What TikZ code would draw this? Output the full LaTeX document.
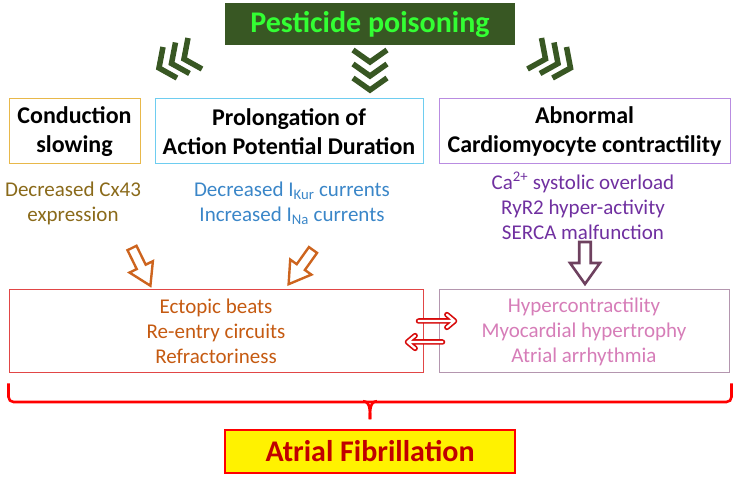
\documentclass[tikz,border=0pt]{standalone}
\usepackage{fontspec}
\setmainfont{Carlito}
\usetikzlibrary{arrows.meta, calc}

\definecolor{titlegreen}{RGB}{56,87,35}
\definecolor{limegreen}{RGB}{51,255,51}
\definecolor{goldline}{RGB}{232,184,74}
\definecolor{skyline}{RGB}{110,205,240}
\definecolor{lilacline}{RGB}{185,140,225}
\definecolor{olivetext}{RGB}{138,106,26}
\definecolor{bluetext}{RGB}{58,134,200}
\definecolor{purpletext}{RGB}{112,48,160}
\definecolor{orangetext}{RGB}{197,90,17}
\definecolor{orangearrow}{RGB}{205,100,30}
\definecolor{plumarrow}{RGB}{110,65,95}
\definecolor{redline}{RGB}{225,70,70}
\definecolor{mauveline}{RGB}{180,150,175}
\definecolor{pinktext}{RGB}{214,125,184}
\definecolor{darkred}{RGB}{192,0,0}
\definecolor{swapred}{RGB}{215,10,10}

\tikzset{
    headbox/.style={draw, line width=1pt, align=center, inner sep=0pt, minimum height=65pt, font=\fontsize{24}{29}\selectfont\bfseries},
    subtext/.style={align=center, font=\fontsize{21}{25}\selectfont},
    effectbox/.style={draw, line width=1pt, align=center, inner sep=0pt, minimum height=83pt, font=\fontsize{21}{25}\selectfont},
    swapline/.style={line cap=round, line join=round},
    bracket/.style={draw=red, line width=2.6pt},
    chevron/.pic={\draw[pic actions, line join=miter] (-17,-6) -- (0,6) -- (17,-6);},
    sidechevron/.pic={\draw[pic actions, line join=miter] (4,-21) -- (0,0) -- (18,10);},
    hollowarrow/.pic={\draw[pic actions, line join=miter] (0,-5) -- (21,-5) -- (21,-13) -- (42,0) -- (21,13) -- (21,5) -- (0,5) -- cycle;}
}

\begin{document}
\begin{tikzpicture}[x=1pt, y=-1pt]

        \useasboundingbox (0,0) rectangle (737,478);

        % ================= TOP: cause =================
        \node[fill=titlegreen, minimum width=290pt, minimum height=42pt, inner sep=0pt,
              text=limegreen, font=\fontsize{30}{36}\selectfont\bfseries] (pest) at (370,24) {Pesticide poisoning};

        % chevrons
        \foreach \k in {0,1,2}
            \pic[draw=titlegreen, line width=5.5pt] at (370,56+14*\k) {chevron};
        \foreach \k in {0,1,2} {
            \pic[draw=titlegreen, line width=5.5pt] at (159+12.5*\k,68-4.5*\k) {sidechevron};
            \pic[draw=titlegreen, line width=5.5pt, xscale=-1] at (570.5-12.5*\k,68-4.5*\k) {sidechevron};
        }

        % ================= MIDDLE: mechanisms =================
        \node[headbox, draw=goldline, minimum width=131pt] (slow) at (74.5,131.5) {Conduction\\slowing};
        \node[headbox, draw=skyline, minimum width=268pt] (apd) at (289,131.5) {Prolongation of\\Action Potential Duration};
        \node[headbox, draw=lilacline, minimum width=291pt] (contr) at (584.5,131.5) {Abnormal\\Cardiomyocyte contractility};

        \node[subtext, text=olivetext] (cx) at (73,203) {Decreased Cx43\\expression};
        \node[subtext, text=bluetext] (ion) at (292,203) {Decreased I\textsubscript{Kur} currents\\Increased I\textsubscript{Na} currents};
        \node[subtext, text=purpletext] (ca) at (583,206) {Ca\textsuperscript{2+} systolic overload\\RyR2 hyper-activity\\SERCA malfunction};

        % block arrows
        \pic[draw=orangearrow, line width=2.4pt, rotate=-64] at (132,248) {hollowarrow};
        \pic[draw=orangearrow, line width=2.4pt, rotate=-125.5] at (313,250) {hollowarrow};
        \pic[draw=plumarrow, line width=2.6pt, rotate=-90, yscale=1.15] at (585,242) {hollowarrow};

        % ================= BOTTOM: effects =================
        \node[effectbox, draw=redline, minimum width=414pt, text=orangetext] (eff) at (216,331.5) {Ectopic beats\\Re-entry circuits\\Refractoriness};
        \node[effectbox, draw=mauveline, minimum width=290pt, text=pinktext] (hyp) at (584,331.5) {Hypercontractility\\Myocardial hypertrophy\\Atrial arrhythmia};

        % two-way arrows (outline then hollow inside)
        \coordinate (ra) at ([shift={(-5,-10.5)}]eff.east);
        \coordinate (rb) at ([shift={(16,-10.5)}]hyp.west);
        \coordinate (la) at ([shift={(4,10.5)}]hyp.west);
        \coordinate (lb) at ([shift={(-16,10.5)}]eff.east);
        \foreach \from/\to in {ra/rb, la/lb}
            \foreach \w/\c in {5.5/swapred, 2.2/white}
                \draw[swapline, line width=\w pt, draw=\c] (\from) -- (\to)
                    ($(\to)!10pt!40:(\from)$) -- (\to) -- ($(\to)!10pt!-40:(\from)$);

        \node[fill=yellow, draw=red, line width=1.5pt, minimum width=290pt, minimum height=43pt, inner sep=0pt,
              text=darkred, font=\fontsize{30}{36}\selectfont\bfseries] (af) at (370,451.5) {Atrial Fibrillation};

        % --- Bracket ---
        \coordinate (bl) at ($(eff.south west)+(0,10)$);
        \coordinate (br) at ($(hyp.south east)+(2,10)$);
        \coordinate (bm) at ($(af.north)+(0,-10)$);
        \draw[bracket, rounded corners=5pt] (bl) -- (bl |- 0,402) -- (br |- 0,402) -- (br);
        \draw[bracket] ($(bm)+(-7,-18)$) to[out=0, in=90] (bm);
        \draw[bracket] ($(bm)+(7,-18)$) to[out=180, in=90] (bm);

\end{tikzpicture}
\end{document}
